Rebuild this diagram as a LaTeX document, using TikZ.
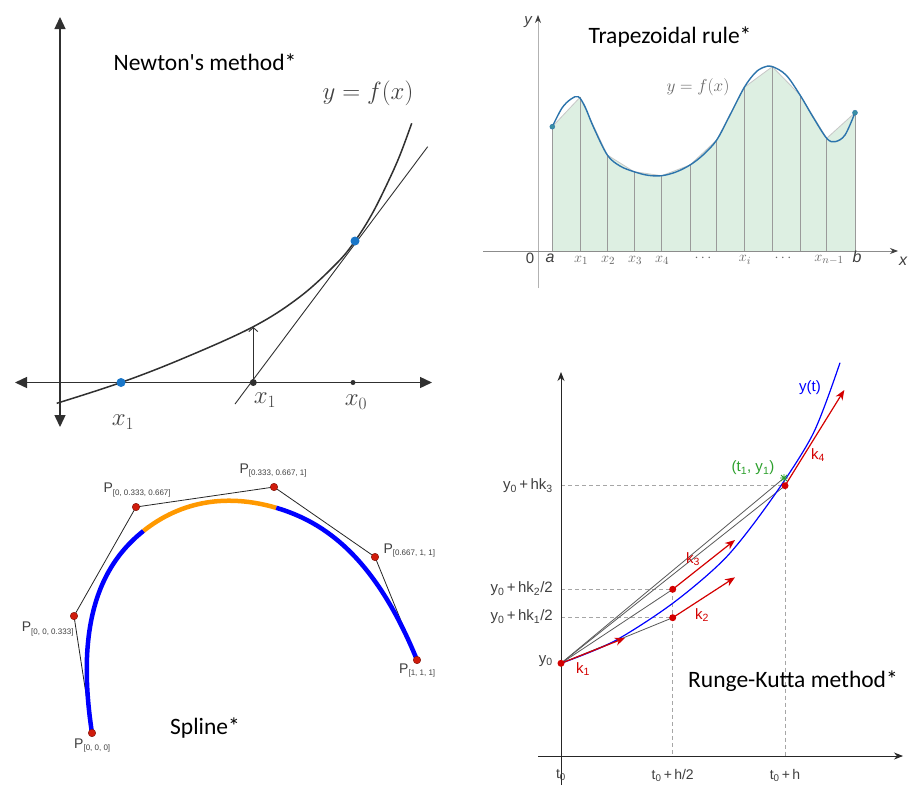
\documentclass[tikz,border=0pt]{standalone}
\usepackage{fontspec}
\newfontfamily\ttlfont{Carlito}
\newfontfamily\arialf{Liberation Sans}
\usetikzlibrary{arrows.meta}
\definecolor{ndark}{HTML}{303030}
\definecolor{nblue}{HTML}{1976C8}
\definecolor{tfill}{HTML}{DDEFE2}
\definecolor{tline}{HTML}{9A9A9A}
\definecolor{tcurve}{HTML}{2C74AC}
\definecolor{tdot}{HTML}{3A8FA3}
\definecolor{sred}{HTML}{D01C0C}
\definecolor{sorange}{HTML}{FF9900}
\definecolor{rkred}{HTML}{D40000}
\definecolor{rkgreen}{HTML}{2CA02C}
\definecolor{lab}{HTML}{404040}
\definecolor{tlabc}{HTML}{666666}
\tikzset{
  title/.style={font=\ttlfont\fontsize{23.5}{28}\selectfont, inner sep=0pt, text=black},
  naxis/.style={draw=ndark, line width=1.4pt, {Triangle[length=12pt,width=11pt]}-{Triangle[length=12pt,width=11pt]}},
  ncurve/.style={draw=ndark, line width=1.5pt},
  ntan/.style={draw=ndark, line width=0.9pt},
  ndot/.style={circle, fill=ndark, inner sep=0pt, minimum size=7pt},
  bdot/.style={circle, fill=nblue, inner sep=0pt, minimum size=9pt},
  nlab/.style={text=lab, inner sep=0pt, font=\fontsize{23}{26}\selectfont},
  tlab/.style={text=tlabc, inner sep=0pt, font=\fontsize{15}{17}\selectfont},
  tsans/.style={text=lab, inner sep=0pt, font=\arialf\fontsize{14}{16}\selectfont},
  tvert/.style={draw=tline, line width=0.7pt},
  tedot/.style={circle, fill=tdot, draw=tcurve, line width=0.4pt, inner sep=0pt, minimum size=5pt},
  spoly/.style={draw=black!85, line width=0.8pt},
  sdot/.style={circle, fill=sred, draw=sred!60!black, line width=0.4pt, inner sep=0pt, minimum size=7.5pt},
  slab/.style={text=lab, inner sep=0pt, anchor=base west, font=\arialf\fontsize{14}{16}\selectfont},
  rkaxis/.style={draw=black!85, line width=0.9pt, -{Stealth[length=9pt,width=7pt]}},
  rkdash/.style={draw=black!35, dashed, dash pattern=on 4pt off 3pt, line width=0.7pt},
  rkgray/.style={draw=black!65, line width=0.8pt},
  rkarrow/.style={draw=rkred, line width=1.2pt, -{Stealth[length=10pt,width=8pt]}},
  rkdot/.style={circle, fill=rkred, inner sep=0pt, minimum size=7pt},
  rklab/.style={text=lab, inner sep=0pt, font=\arialf\fontsize{15}{17}\selectfont},
  rkk/.style={text=rkred, inner sep=0pt, font=\arialf\fontsize{15}{17}\selectfont},
}
\newcommand{\ssub}[1]{{\fontsize{8}{9}\selectfont\raisebox{-2.5pt}{#1}}}
\begin{document}
\begin{tikzpicture}[x=1pt,y=-1pt]
\useasboundingbox (0,0) rectangle (908,785);
\fill[white] (0,0) rectangle (908,785);

%%%%%%%%%%%%%%%% Newton's method
\node[title] (ntitle) at (205,62) {Newton's method*};
\coordinate (nyt) at (60,17); \coordinate (nyb) at (60,427);
\coordinate (nxl) at (15,382.5); \coordinate (nxr) at (432,382.5);
\draw[naxis] (nyb) -- (nyt);
\draw[naxis] (nxl) -- (nxr);
\draw[ncurve] plot[smooth, tension=0.6] coordinates {(56.7,403.3) (121,382.5) (183.3,358.3) (253.3,326.7) (300,296.7) (336.7,263.3) (355,241) (372,214) (388,182) (400,155) (411.7,123.3)};
\coordinate (tA) at (235,404); \coordinate (tB) at (427.7,146.7);
\draw[ntan] (tA) -- (tB);
\node[ndot] (nx1dot) at (253.3,382.5) {};
\coordinate (nx1top) at (253.3,327);
\draw[ndark, line width=0.9pt, -{Straight Barb[length=4pt,width=9pt]}] (nx1dot) -- (nx1top);
\node[bdot] (root) at (121,382.5) {};
\node[bdot] (tp) at (355,241) {};
\node[ndot, minimum size=5pt] (x0dot) at (353,382.5) {};
\node[nlab] (lx1a) at (123,422) {$x_1$};
\node[nlab] (lx1b) at (265,400) {$x_1$};
\node[nlab] (lx0) at (356,402) {$x_0$};
\node[nlab] (nf) at (368,93) {$y=f(x)$};

%%%%%%%%%%%%%%%% Trapezoidal rule
\fill[tfill] (552.3,251) -- (552.3,126.7) -- (580,97.3) -- (607.3,155) -- (634,171.7) -- (661.7,175.7) -- (690,165) -- (716.7,140) -- (744.3,87.3) -- (772.3,66.7) -- (800,95) -- (826.7,138.3) -- (855,112.7) -- (855,251) -- cycle;
\draw[black!22, line width=0.8pt] (552.3,126.7) -- (580,97.3) -- (607.3,155) -- (634,171.7) -- (661.7,175.7) -- (690,165) -- (716.7,140) -- (744.3,87.3) -- (772.3,66.7) -- (800,95) -- (826.7,138.3) -- (855,112.7);
\foreach \xx/\yy in {552.3/126.7, 580/97.3, 607.3/155, 634/171.7, 661.7/175.7, 690/165, 716.7/140, 744.3/87.3, 772.3/66.7, 800/95, 826.7/138.3, 855/112.7}
  \draw[tvert] (\xx,251) -- (\xx,\yy);
\coordinate (tyb) at (538,288); \coordinate (tyt) at (538,15);
\coordinate (txl) at (483,251); \coordinate (txr) at (898,251);
\draw[black!30, line width=0.8pt, -{Stealth[length=8pt,width=6pt,black!75]}] (tyb) -- (tyt);
\draw[black!45, line width=0.8pt, -{Stealth[length=8pt,width=6pt,black!75]}] (txl) -- (txr);
\draw[tcurve, line width=1.4pt] plot[smooth, tension=0.55] coordinates {(552.3,126.7) (562,108) (571,99) (578.3,96.7) (585,106.7) (593.3,126.7) (607.3,155) (620,166) (634,171.7) (648,175.3) (661.7,175.7) (676,172) (690,165) (703,155) (716.7,140) (730,115) (744.3,87.3) (755,73) (763,67.5) (772,66.5) (786,75) (800,95) (813,117) (826.7,138.3) (835,141.7) (845,135) (855,112.7)};
\node[tedot] (tdA) at (552.3,126.7) {};
\node[tedot] (tdB) at (855,112.7) {};
\node[title] (ttitle) at (670,37) {Trapezoidal rule*};
\node[text=tlabc, inner sep=0pt, font=\fontsize{18}{20}\selectfont] (tf) at (698,87) {$y=f(x)$};
\node[tsans, font=\arialf\itshape\fontsize{15}{16}\selectfont] (ty) at (528,22) {y};
\node[tsans, font=\arialf\itshape\fontsize{16}{17}\selectfont] (tx) at (903,261) {x};
\node[tsans, font=\arialf\fontsize{15}{16}\selectfont] (t0) at (530,258) {0};
\node[tsans, font=\arialf\itshape\fontsize{16}{17}\selectfont] (ta) at (550,258) {a};
\node[tsans, font=\arialf\itshape\fontsize{16}{17}\selectfont] (tb) at (857,257) {b};
\node[tlab] (tx1) at (581,260) {$x_1$};
\node[tlab] (tx2) at (608,260) {$x_2$};
\node[tlab] (tx3) at (635,260) {$x_3$};
\node[tlab] (tx4) at (662,260) {$x_4$};
\node[tlab] (td1) at (703,258) {$\cdots$};
\node[tlab] (txi) at (745,260) {$x_i$};
\node[tlab] (td2) at (783,258) {$\cdots$};
\node[tlab] (txn) at (829,260) {$x_{n-1}$};

%%%%%%%%%%%%%%%% Spline
\coordinate (P0) at (92,733); \coordinate (P1) at (74,616); \coordinate (P2) at (136,507);
\coordinate (P3) at (274,487); \coordinate (P4) at (375,557); \coordinate (P5) at (417,660);
\draw[spoly] (P0) -- (P1) -- (P2) -- (P3) -- (P4) -- (P5);
\draw[blue, line width=4.5pt] (P0) .. controls (P1) and (105,561.5) .. (143.5,530.9);
\draw[sorange, line width=4.5pt] (143.5,530.9) .. controls (182,500.3) and (228,493.7) .. (276.25,507.8);
\draw[blue, line width=4.5pt] (276.25,507.8) .. controls (324.5,522) and (P4) .. (P5);
\foreach \p in {P0,P1,P2,P3,P4,P5} \node[sdot] at (\p) {};
\node[slab] (l0) at (74,748.3) {P\ssub{[0, 0, 0]}};
\node[slab] (l1) at (21.7,631.7) {P\ssub{[0, 0, 0.333]}};
\node[slab] (l2) at (103.3,492.7) {P\ssub{[0, 0.333, 0.667]}};
\node[slab] (l3) at (239.3,473.3) {P\ssub{[0.333, 0.667, 1]}};
\node[slab] (l4) at (383.3,553.3) {P\ssub{[0.667, 1, 1]}};
\node[slab] (l5) at (399,673.3) {P\ssub{[1, 1, 1]}};
\node[title] (stitle) at (205,728) {Spline*};

%%%%%%%%%%%%%%%% Runge-Kutta
\coordinate (ryb) at (561,785); \coordinate (ryt) at (561,372);
\coordinate (rxl) at (538,756); \coordinate (rxr) at (903,756);
\coordinate (Y0) at (561,663.3);
\coordinate (M1) at (672.7,617.7); \coordinate (M2) at (672.7,589.3);
\coordinate (E) at (785,485.7); \coordinate (S) at (784,478);
\coordinate (M1b) at (672.7,756); \coordinate (Eb) at (785,756);
\coordinate (H3) at (561,485.7); \coordinate (H2) at (561,589.3); \coordinate (H1) at (561,617.7);
\draw[rkdash] (H3) -- (E);
\draw[rkdash] (H2) -- (M2);
\draw[rkdash] (H1) -- (M1);
\draw[rkdash] (M2) -- (M1b);
\draw[rkdash] (E) -- (Eb);
\draw[rkaxis] (ryb) -- (ryt);
\draw[rkaxis] (rxl) -- (rxr);
\draw[rkgray] (Y0) -- (M1);
\draw[rkgray] (Y0) -- (M2);
\draw[rkgray] (Y0) -- (E);
\draw[rkgray] (Y0) -- (S);
\draw[blue, line width=1.2pt] plot[smooth] coordinates {(561,663.3) (613.3,641.7) (672.7,603.3) (726.7,556.7) (773.3,496.7) (813.3,433.3) (840,362.7)};
\coordinate (K1e) at (625,638); \coordinate (K2e) at (735,577.3);
\coordinate (K3e) at (735,540); \coordinate (K4e) at (844.3,390);
\draw[rkarrow] (Y0) -- (K1e);
\draw[rkarrow] (M1) -- (K2e);
\draw[rkarrow] (M2) -- (K3e);
\draw[rkarrow] (E) -- (K4e);
\node[rkdot] (dY0) at (Y0) {};
\node[rkdot] (dM1) at (M1) {};
\node[rkdot] (dM2) at (M2) {};
\node[rkdot] (dE) at (E) {};
\draw[rkgreen, line width=0.8pt] (780,478) -- (788,478) (784,474) -- (784,482) (781,475) -- (787,481) (781,481) -- (787,475);
\node[text=blue, inner sep=0pt, font=\arialf\fontsize{15}{17}\selectfont] (lyt) at (810,388) {y(t)};
\node[rkk] (lk4) at (818,455) {k\textsubscript{4}};
\node[rkk] (lk3) at (693,559) {k\textsubscript{3}};
\node[rkk] (lk2) at (702,615) {k\textsubscript{2}};
\node[rkk] (lk1) at (583,669) {k\textsubscript{1}};
\node[text=rkgreen, inner sep=0pt, font=\arialf\fontsize{15}{17}\selectfont] (lt1) at (753,468) {(t\textsubscript{1}, y\textsubscript{1})};
\node[rklab, anchor=east] (ly3) at (553,486) {y\textsubscript{0}\,+\,hk\textsubscript{3}};
\node[rklab, anchor=east] (ly2) at (553,589) {y\textsubscript{0}\,+\,hk\textsubscript{2}/2};
\node[rklab, anchor=east] (ly1) at (553,617) {y\textsubscript{0}\,+\,hk\textsubscript{1}/2};
\node[rklab, anchor=east] (ly0) at (553,661) {y\textsubscript{0}};
\node[rklab, anchor=north, font=\arialf\fontsize{14}{16}\selectfont] (lt0) at (561,769) {t\textsubscript{0}};
\node[rklab, anchor=north, font=\arialf\fontsize{14}{16}\selectfont] (lth2) at (672.7,769) {t\textsubscript{0}\,+\,h/2};
\node[rklab, anchor=north, font=\arialf\fontsize{14}{16}\selectfont] (lth) at (785,769) {t\textsubscript{0}\,+\,h};
\node[title] (rtitle) at (793,681) {Runge-Kutta method*};
\end{tikzpicture}
\end{document}
